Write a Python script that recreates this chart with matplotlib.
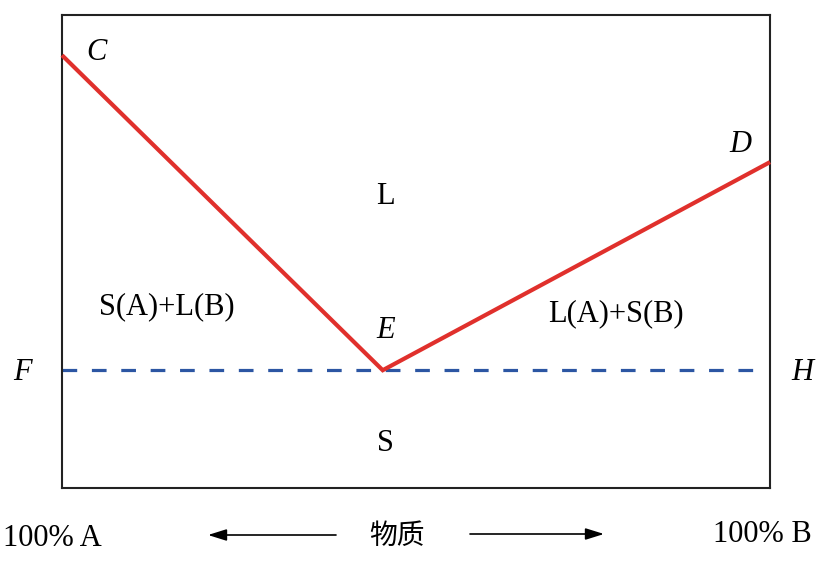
import matplotlib.pyplot as plt

# 组成 (% B) 与温度 (相对值)
liquidus_x = [0, 45.3, 100]
liquidus_y = [91.5, 24.9, 68.9]
eutectic_y = 24.9

plt.rcParams['font.family'] = ['Liberation Serif', 'Noto Sans CJK SC']

fig = plt.figure(figsize=(8.35, 5.67), dpi=100)
ax = fig.add_axes([62 / 835, 1 - 488 / 567, 708 / 835, 473 / 567])
ax.set_xlim(0, 100)
ax.set_ylim(0, 100)
ax.set_xticks([])
ax.set_yticks([])
for s in ax.spines.values():
    s.set_linewidth(1.5)
    s.set_color('#222222')

# 液相线
ax.plot(liquidus_x, liquidus_y, color='#e0302c', lw=3.0, solid_capstyle='butt',
        solid_joinstyle='miter', clip_on=False, zorder=3)
# 共晶线
ax.plot([0, 98.5], [eutectic_y, eutectic_y], color='#2c56a3', lw=2.3,
        dashes=(4.6, 4.6), zorder=2)

fs = 22
it = dict(fontsize=fs, style='italic', ha='center', va='center')
ax.text(4.9, 92.0, 'C', **it)
ax.text(45.7, 33.3, 'E', **it)
ax.text(95.8, 72.6, 'D', **it)
ax.text(-5.6, eutectic_y - 0.4, 'F', clip_on=False, **it)
ax.text(104.6, eutectic_y - 0.4, 'H', clip_on=False, **it)

rt = dict(fontsize=fs, ha='center', va='center')
ax.text(45.7, 61.6, 'L', **rt)
ax.text(45.7, 9.4, 'S', **rt)
ax.text(14.8, 38.3, 'S(A)+L(B)', **rt)
ax.text(78.2, 36.8, 'L(A)+S(B)', **rt)

# 底部说明
fig.text(52 / 835, 1 - 539 / 567, '100% A', fontsize=fs, ha='center', va='center')
fig.text(762 / 835, 1 - 535 / 567, '100% B', fontsize=fs, ha='center', va='center')
fig.text(397 / 835, 1 - 536 / 567, '物质', fontsize=20, ha='center', va='center',
         family=['Noto Sans CJK SC'])
arrow = dict(arrowstyle='-|>,head_length=0.8,head_width=0.25', color='black',
             lw=1.2, mutation_scale=14, shrinkA=0, shrinkB=0)
ax.annotate('', xy=(208 / 835, 1 - 535 / 567), xytext=(336 / 835, 1 - 535 / 567),
            xycoords='figure fraction', textcoords='figure fraction', arrowprops=arrow)
ax.annotate('', xy=(604 / 835, 1 - 534 / 567), xytext=(470 / 835, 1 - 534 / 567),
            xycoords='figure fraction', textcoords='figure fraction', arrowprops=arrow)

fig.savefig('out.png', dpi=100)
